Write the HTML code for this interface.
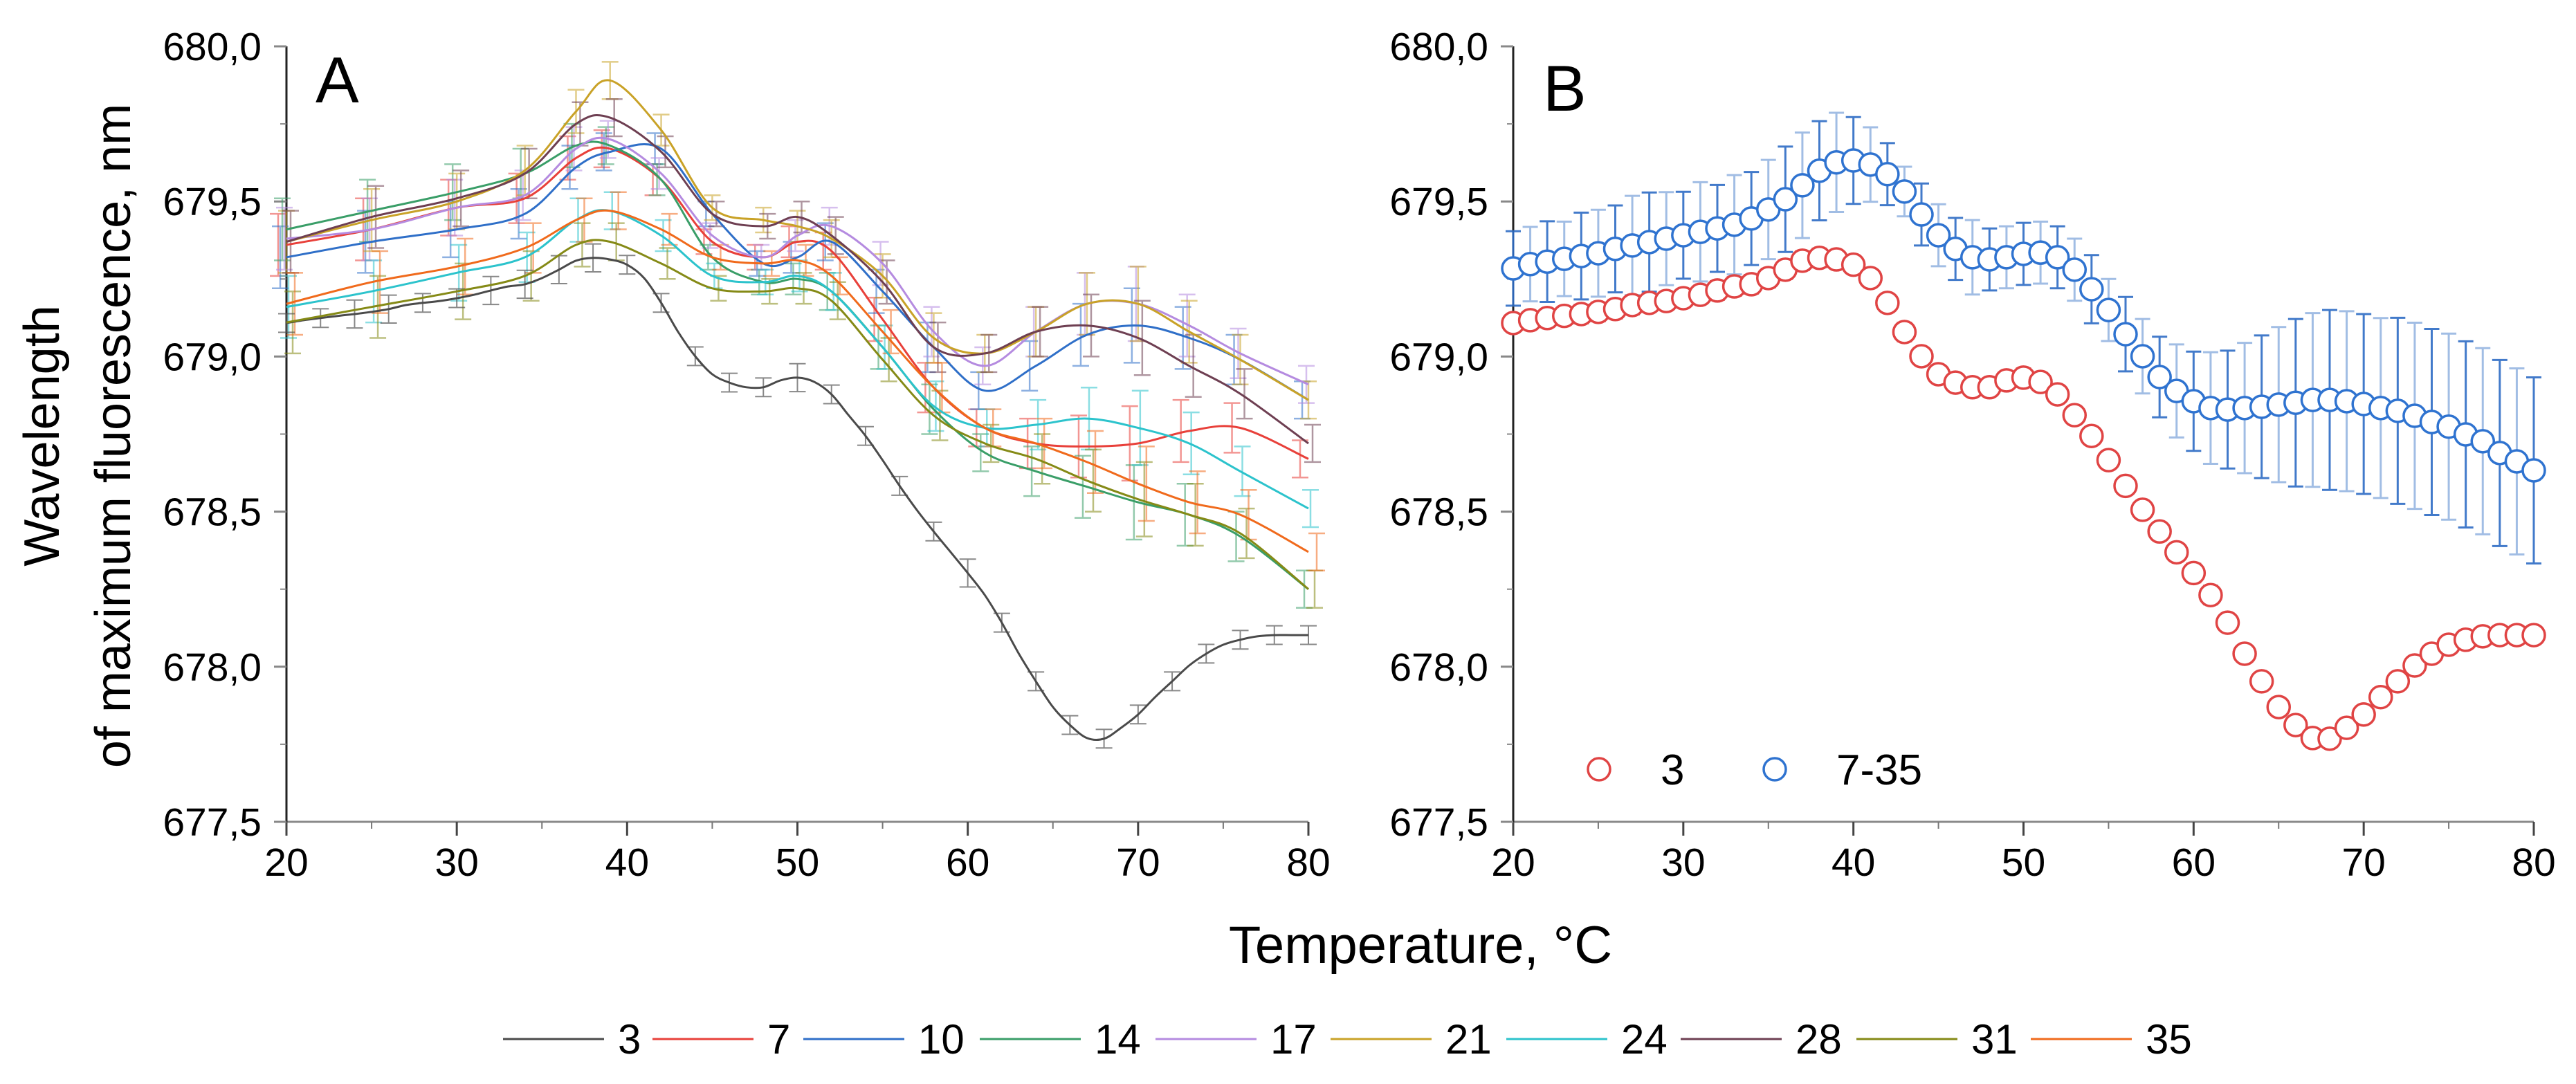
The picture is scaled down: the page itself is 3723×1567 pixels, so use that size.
<!DOCTYPE html>
<html><head><meta charset="utf-8"><style>
html,body{margin:0;padding:0;background:#fff}
svg{display:block;font-family:"Liberation Sans",Arial,sans-serif}
</style></head><body>
<svg id="fig" width="3723" height="1567" viewBox="0 0 3723 1567" xmlns="http://www.w3.org/2000/svg">
<g id="panelA"></g>
<g id="panelB"></g>
<g id="titles">
<text transform="translate(85,630) rotate(-90)" text-anchor="middle" font-size="72">Wavelength</text>
<text transform="translate(188,630) rotate(-90)" text-anchor="middle" font-size="72">of maximum fluorescence, nm</text>
<text x="2053" y="1392" text-anchor="middle" font-size="76">Temperature, °C</text>
<text x="456" y="148" font-size="94">A</text>
<text x="2230" y="160" font-size="94">B</text>
</g>
<g id="legendA"></g>
<g id="legendB"></g>
</svg>
<script>
// ---- data ----
const tempsFull = [20,21,22,23,24,25,26,27,28,29,30,31,32,33,34,35,36,37,38,39,40,41,42,43,44,45,46,47,48,49,50,51,52,53,54,55,56,57,58,59,60,61,62,63,64,65,66,67,68,69,70,71,72,73,74,75,76,77,78,79,80];
const series3 = [679.108,679.117,679.124,679.131,679.137,679.144,679.153,679.166,679.173,679.179,679.188,679.199,679.213,679.226,679.233,679.253,679.280,679.309,679.318,679.313,679.296,679.253,679.173,679.079,679.001,678.943,678.916,678.901,678.901,678.923,678.932,678.918,678.878,678.811,678.744,678.666,678.583,678.506,678.436,678.369,678.302,678.231,678.142,678.042,677.953,677.870,677.812,677.770,677.768,677.803,677.846,677.902,677.953,678.004,678.042,678.071,678.087,678.098,678.102,678.102,678.102];
const series7to35 = [679.284,679.298,679.306,679.315,679.324,679.333,679.347,679.358,679.369,679.380,679.391,679.402,679.413,679.425,679.445,679.474,679.507,679.552,679.599,679.626,679.632,679.619,679.588,679.532,679.458,679.391,679.347,679.320,679.313,679.320,679.331,679.335,679.320,679.280,679.217,679.150,679.072,679.001,678.934,678.889,678.856,678.834,678.829,678.834,678.838,678.845,678.851,678.860,678.860,678.856,678.847,678.834,678.825,678.809,678.789,678.774,678.749,678.727,678.689,678.662,678.633];
const err3 = [0.02,0.02,0.02,0.02,0.03,0.03,0.03,0.03,0.02,0.02,0.02,0.02,0.03,0.03,0.03,0.03,0.03,0.03,0.03,0.02,0.02,0.02,0.02,0.03,0.02,0.02,0.02,0.02,0.02,0.02,0.03,0.02,0.02,0.02,0.02,0.02,0.02,0.02,0.02,0.02,0.03,0.03,0.02,0.02,0.02,0.02,0.02,0.02,0.02,0.02,0.02,0.02,0.02,0.02,0.02,0.02,0.02,0.02,0.02,0.02,0.02];
const err7to35 = [0.12,0.12,0.13,0.12,0.14,0.14,0.14,0.16,0.16,0.15,0.14,0.16,0.14,0.16,0.15,0.16,0.17,0.17,0.16,0.16,0.14,0.12,0.10,0.08,0.10,0.10,0.10,0.12,0.10,0.10,0.10,0.10,0.10,0.10,0.11,0.10,0.12,0.12,0.13,0.15,0.16,0.18,0.19,0.21,0.23,0.25,0.27,0.28,0.29,0.29,0.29,0.29,0.30,0.30,0.30,0.30,0.30,0.30,0.30,0.30,0.30];

const tempsA = [20,25,30,34,37,39,42,45,48,50,52,55,58,61,64,67,70,73,76,80];
const series7A  = [679.36,679.41,679.48,679.51,679.64,679.67,679.57,679.37,679.32,679.37,679.34,679.12,678.90,678.77,678.72,678.71,678.72,678.76,678.77,678.67];
const series10A = [679.32,679.37,679.41,679.46,679.61,679.66,679.67,679.46,679.30,679.32,679.37,679.21,679.03,678.89,678.97,679.07,679.10,679.06,678.99,678.86];
const series14A = [679.41,679.47,679.53,679.59,679.68,679.68,679.57,679.32,679.24,679.25,679.21,679.03,678.83,678.69,678.63,678.58,678.53,678.49,678.42,678.25];
const series17A = [679.38,679.41,679.48,679.52,679.67,679.70,679.59,679.39,679.32,679.39,679.42,679.30,679.08,678.97,679.08,679.17,679.17,679.10,679.01,678.91];
const series21A = [679.37,679.44,679.50,679.60,679.79,679.89,679.73,679.48,679.44,679.42,679.38,679.26,679.06,679.01,679.08,679.17,679.17,679.08,678.99,678.86];
const series24A = [679.16,679.21,679.27,679.32,679.44,679.47,679.39,679.26,679.24,679.26,679.21,679.03,678.84,678.77,678.78,678.80,678.77,678.72,678.63,678.51];
const series28A = [679.37,679.45,679.51,679.59,679.75,679.77,679.66,679.46,679.42,679.45,679.39,679.24,679.03,679.01,679.08,679.10,679.06,678.97,678.88,678.72];
const series31A = [679.11,679.16,679.21,679.26,679.36,679.37,679.30,679.22,679.21,679.22,679.18,678.99,678.81,678.72,678.67,678.60,678.54,678.49,678.43,678.25];
const series35A = [679.17,679.24,679.29,679.35,679.44,679.47,679.41,679.32,679.30,679.31,679.26,679.08,678.90,678.77,678.72,678.66,678.59,678.53,678.49,678.37];
const errA = [0.10,0.10,0.09,0.08,0.07,0.06,0.05,0.04,0.04,0.05,0.06,0.07,0.08,0.06,0.08,0.10,0.12,0.10,0.08,0.06];

const legendLabelsA = ["3","7","10","14","17","21","24","28","31","35"];
const legendColorsA = ["#4a4a4a","#e8403a","#2f6fc8","#3a9e68","#b58be0","#c9a227","#2cc3cc","#6e3f52","#858a16","#f06a1c"];
const xTicks = [20,30,40,50,60,70,80];
const xMinor = [25,35,45,55,65,75];
const yTicks = [677.5,678.0,678.5,679.0,679.5,680.0];
const yTickLabels = ["677,5","678,0","678,5","679,0","679,5","680,0"];
const yMinor = [677.75,678.25,678.75,679.25,679.75];

// ---- geometry ----
const NS = "http://www.w3.org/2000/svg";
const Y0 = 1188, Y1 = 67;
function yScale(v){ return Y0 - (v-677.5)/2.5*(Y0-Y1); }
function makeX(left,right){ return t => left + (t-20)/60*(right-left); }
const xA = makeX(414,1891), xB = makeX(2187,3662);
function el(tag, attrs, parent){ const e=document.createElementNS(NS,tag); for(const k in attrs) e.setAttribute(k,attrs[k]); parent.appendChild(e); return e; }

function axes(g, xs, left, right){
  let a = el('line',{x1:left,y1:Y0,x2:right,y2:Y0,stroke:'#8a8a8a','stroke-width':3},g);
   
  let b = el('line',{x1:left,y1:Y0+1,x2:left,y2:Y1,stroke:'#222','stroke-width':3},g);
   
  xTicks.forEach(t=>{
    const tk=el('line',{x1:xs(t),y1:Y0,x2:xs(t),y2:Y0+20,stroke:'#444','stroke-width':3},g);
     
    const tx=el('text',{x:xs(t),y:Y0+78,'text-anchor':'middle','font-size':57},g);
     
    tx.textContent=t;
  });
  xMinor.forEach(t=>{
    const tk=el('line',{x1:xs(t),y1:Y0,x2:xs(t),y2:Y0+10,stroke:'#777','stroke-width':2},g);
     
  });
  yTicks.forEach((v,i)=>{
    const tk=el('line',{x1:left-18,y1:yScale(v),x2:left,y2:yScale(v),stroke:'#888','stroke-width':3},g);
     
    const tx=el('text',{x:left-36,y:yScale(v)+20,'text-anchor':'end','font-size':57},g);
     
    tx.textContent=yTickLabels[i];
  });
  yMinor.forEach(v=>{
    const tk=el('line',{x1:left-9,y1:yScale(v),x2:left,y2:yScale(v),stroke:'#888','stroke-width':2},g);
     
  });
}

function smoothPath(px){
  let d='M'+px[0][0].toFixed(1)+','+px[0][1].toFixed(1);
  for(let i=0;i<px.length-1;i++){
    const p0=px[Math.max(0,i-1)],p1=px[i],p2=px[i+1],p3=px[Math.min(px.length-1,i+2)];
    const c1x=p1[0]+(p2[0]-p0[0])/6,c1y=p1[1]+(p2[1]-p0[1])/6;
    const c2x=p2[0]-(p3[0]-p1[0])/6,c2y=p2[1]-(p3[1]-p1[1])/6;
    d+=' C'+c1x.toFixed(1)+','+c1y.toFixed(1)+' '+c2x.toFixed(1)+','+c2y.toFixed(1)+' '+p2[0].toFixed(1)+','+p2[1].toFixed(1);
  }
  return d;
}

// ---- Panel A ----
const gA=document.getElementById('panelA');
axes(gA,xA,414,1891);
const seriesA=[series7A,series10A,series14A,series17A,series21A,series24A,series28A,series31A,series35A];
const namesA=["7","10","14","17","21","24","28","31","35"];
seriesA.forEach((s,si)=>{
  const c=legendColorsA[si+1];
  s.forEach((v,i)=>{
    const x=xA(tempsA[i])+(si-4)*3, e=errA[i];
    const eb=el('path',{d:`M${x},${yScale(v+e)} V${yScale(v-e)} M${x-12},${yScale(v+e)} H${x+12} M${x-12},${yScale(v-e)} H${x+12}`,stroke:c,'stroke-width':2.5,fill:'none',opacity:0.55},gA);
    
    
  });
});
series3.forEach((v,i)=>{
  if(i%2) return;
  const x=xA(tempsFull[i]), e=err3[i]*1.5;
  const eb=el('path',{d:`M${x},${yScale(v+e)} V${yScale(v-e)} M${x-12},${yScale(v+e)} H${x+12} M${x-12},${yScale(v-e)} H${x+12}`,stroke:'#555','stroke-width':2,fill:'none',opacity:0.7},gA);
  
  
});
{
  const p=el('path',{d:smoothPath(tempsFull.map((t,i)=>[xA(t),yScale(series3[i])])),stroke:legendColorsA[0],'stroke-width':3,fill:'none'},gA);
  
  
}
seriesA.forEach((s,si)=>{
  const p=el('path',{d:smoothPath(tempsA.map((t,i)=>[xA(t),yScale(s[i])])),stroke:legendColorsA[si+1],'stroke-width':3,fill:'none'},gA);
  
  
});

// ---- Panel B ----
const gB=document.getElementById('panelB');
axes(gB,xB,2187,3662);
function errB(s,errs,color,name,alt){
  s.forEach((v,i)=>{
    const x=xB(tempsFull[i]), e=errs[i];
    const op = alt ? (i%2 ? 0.45 : 0.9) : 0.8;
    const eb=el('path',{d:`M${x},${yScale(v+e)} V${yScale(v-e)} M${x-11},${yScale(v+e)} H${x+11} M${x-11},${yScale(v-e)} H${x+11}`,stroke:color,'stroke-width':3,fill:'none',opacity:op},gB);
    
    
  });
}
errB(series7to35,err7to35,'#2e6cc4','7-35',true);
errB(series3,err3,'#d84a4a','3',false);
function markers(s,color,name){
  s.forEach((v,i)=>{
    const c=el('circle',{cx:xB(tempsFull[i]),cy:yScale(v),r:16,fill:'#fff',stroke:color,'stroke-width':3.5},gB);
    
    
  });
}
markers(series7to35,'#2f73d0','7-35');
markers(series3,'#e04444','3');

// ---- Legends ----
const lA=document.getElementById('legendA');
const legendXA=[727,943,1161,1416,1670,1923,2177,2429,2683,2935];
legendLabelsA.forEach((lab,i)=>{
  const x=legendXA[i];
  const ln=el('line',{x1:x,y1:1502,x2:x+146,y2:1502,stroke:legendColorsA[i],'stroke-width':3},lA);
  
  
  const tx=el('text',{x:x+166,y:1523,'font-size':60},lA);
  
  
  tx.textContent=lab;
});
const lB=document.getElementById('legendB');
[[2311,'#e04444','3',2400],[2565,'#2f73d0','7-35',2654]].forEach(([cx,col,lab,tx0])=>{
  const c=el('circle',{cx:cx,cy:1112,r:16,fill:'none',stroke:col,'stroke-width':3.5},lB);
  
  
  const t=el('text',{x:tx0,y:1134,'font-size':62},lB);
  
  
  t.textContent=lab;
});
</script>
</body></html>
